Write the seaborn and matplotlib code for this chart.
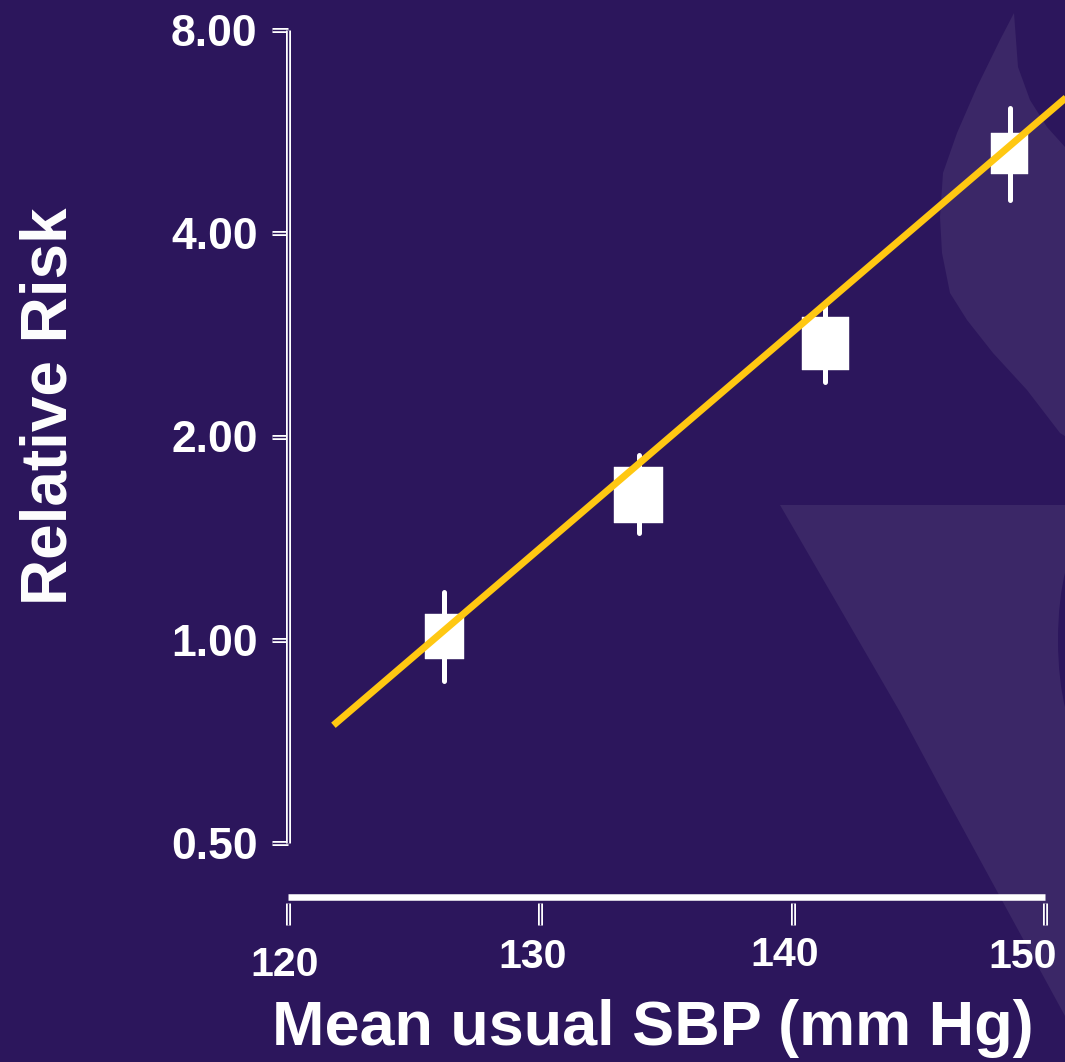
import numpy as np
import pandas as pd
import matplotlib
matplotlib.use("Agg")
import matplotlib.pyplot as plt
import seaborn as sns
import matplotlib.patheffects as pe
import matplotlib.transforms as mtransforms
from matplotlib.patches import Polygon, Ellipse

# ---------------- data ----------------
sbp = [126.2, 133.9, 141.3, 148.6]          # mean usual SBP (mm Hg)
rr = [1.01, 1.64, 2.75, 5.25]               # relative risk
ci_low = [0.87, 1.44, 2.41, 4.48]
ci_high = [1.175, 1.875, 3.12, 6.14]
weight = [0.65, 1.0, 0.90, 0.56]            # relative box weight
fit_x = [121.8, 151.0]                       # fitted trend line
fit_rr = [0.747, 6.43]
y_ticks = [0.5, 1, 2, 4, 8]
y_ticklabels = ["0.50", "1.00", "2.00", "4.00", "8.00"]
x_ticks = [120, 130, 140, 150]
x_ticklabels = ["120", "130", "140", "150"]

BG = "#2c165c"
SHAPE = "#3b2767"
YELLOW = "#ffc812"
W, H = 1065, 1062

sns.set_theme(style="ticks")
plt.rcParams["font.family"] = ["Liberation Sans", "DejaVu Sans"]
plt.rcParams["font.weight"] = "bold"

fig = plt.figure(figsize=(W / 100, H / 100), dpi=100, facecolor=BG)

def px(points):
    return [(x / W, 1 - y / H) for x, y in points]

# decorative background shapes
flame = [(1014, 13), (1018, 67), (1030, 100), (1047, 127), (1065, 147), (1120, 175),
         (1120, 470), (1060, 433), (1027, 390), (993, 353), (967, 320), (950, 293),
         (942, 253), (940, 217), (943, 173), (957, 133), (977, 87), (1000, 40)]
fig.add_artist(Polygon(px(flame), closed=True, transform=fig.transFigure,
                       facecolor=SHAPE, edgecolor="none", zorder=-2))
tri = [(780, 505), (1120, 505), (1120, 1100), (1065, 1016), (937, 781), (900, 712)]
fig.add_artist(Polygon(px(tri), closed=True, transform=fig.transFigure,
                       facecolor=SHAPE, edgecolor="none", zorder=-2))
fig.add_artist(Ellipse((1085 / W, 1 - 640 / H), 54 / W, 200 / H,
                       transform=fig.transFigure, facecolor=BG, edgecolor="none", zorder=-1))

ax = fig.add_axes([288 / W, 1 - 843 / H, (1045 - 288) / W, (843 - 30) / H])
ax.patch.set_alpha(0)

df = pd.DataFrame({"sbp": sbp, "rr": rr, "weight": weight})

# error bars
ax.vlines(sbp, ci_low, ci_high, colors="white", linewidth=3.6, capstyle="round", zorder=2)

# boxes
rect = [(-0.435, -0.5), (0.435, -0.5), (0.435, 0.5), (-0.435, 0.5), (-0.435, -0.5)]
sns.scatterplot(data=df, x="sbp", y="rr", size="weight", sizes=(913, 1626),
                marker=rect, color="white", edgecolor="white", linewidth=0.3,
                legend=False, ax=ax, zorder=3)

# fitted line
sns.lineplot(x=fit_x, y=fit_rr, color=YELLOW, linewidth=5, ax=ax,
             estimator=None, sort=False, clip_on=False, zorder=5,
             solid_capstyle="butt")

ax.set_yscale("log", base=2)
ax.set_ylim(0.5, 8)
ax.set_xlim(120, 150)
ax.set_yticks(y_ticks)
ax.set_yticklabels(y_ticklabels)
ax.minorticks_off()
ax.set_xticks(x_ticks)
ax.set_xticklabels(x_ticklabels)

for s in ["top", "right"]:
    ax.spines[s].set_visible(False)
ax.spines["bottom"].set_position(("outward", 43.2))
ax.spines["bottom"].set_visible(False)

hollow = [pe.Stroke(linewidth=3.6, foreground="white"), pe.Normal()]
ax.spines["left"].set_color(BG)
ax.spines["left"].set_linewidth(1.0)
ax.spines["left"].set_path_effects(hollow)
ax.spines["left"].set_capstyle("butt")

ax.tick_params(axis="y", length=11.3, width=1.0, color=BG, pad=10.5,
               labelsize=32, labelcolor="white")
ax.tick_params(axis="x", length=15.8, width=1.0, color=BG, pad=9.4,
               labelsize=29.5, labelcolor="white")
for t in ax.yaxis.get_ticklines() + ax.xaxis.get_ticklines():
    t.set_path_effects(hollow)
for lab in ax.get_xticklabels() + ax.get_yticklabels():
    lab.set_fontweight("bold")

# the original's x tick labels sit slightly left of / below their ticks
label_shift_px = [(-3, -8), (-8, 0), (-8, 2), (-22, 0)]
for lab, (dx, dy) in zip(ax.get_xticklabels(), label_shift_px):
    off = mtransforms.ScaledTranslation(dx / 100, dy / 100, fig.dpi_scale_trans)
    lab.set_transform(lab.get_transform() + off)

# x axis bar
ax.plot([120, 150], [-(896.5 - 843) / 813] * 2, transform=ax.get_xaxis_transform(),
        color="white", linewidth=4.7, solid_capstyle="butt", clip_on=False)

ax.set_ylabel("Relative Risk", fontsize=46, fontweight="bold", color="white")
ax.yaxis.set_label_coords(-0.2748, 0.5375)
ax.set_xlabel("Mean usual SBP (mm Hg)", fontsize=45.4, fontweight="bold", color="white")
ax.xaxis.set_label_coords(0.482, -0.192)

fig.savefig("out.png", dpi=100, facecolor=BG)
